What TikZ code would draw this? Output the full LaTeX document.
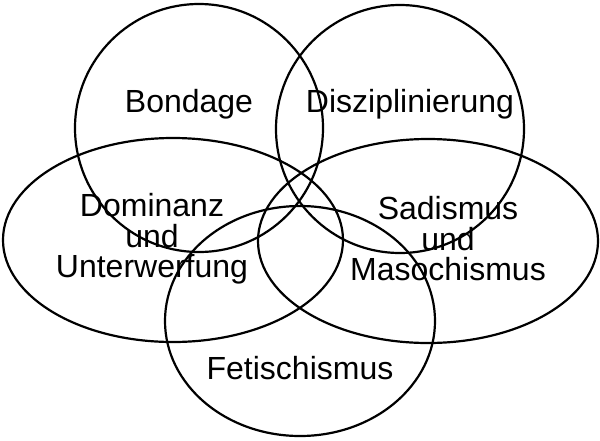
\documentclass[tikz,border=0pt]{standalone}
\usepackage{fontspec}
\setmainfont{Liberation Sans}
\begin{document}
\begin{tikzpicture}[x=1pt,y=-1pt,
  setline/.style={draw=black,line width=2.2pt},
  lbl/.style={font=\fontsize{32}{30.5}\selectfont,align=center,inner sep=0pt}]
\useasboundingbox (0,0) rectangle (600,440);
\draw[setline] (199,128) circle (124);
\draw[setline] (400,129) circle (124);
\draw[setline] (173,240) ellipse [x radius=170, y radius=102];
\draw[setline] (428,241) ellipse [x radius=170, y radius=102];
\draw[setline] (300,321) ellipse [x radius=135, y radius=115];
\node[lbl] (bond) at (189,104) {Bondage};
\node[lbl] (disz) at (410,104) {Disziplinierung};
\node[lbl] (dom) at (152,239) {Dominanz\\und\\Unterwerfung};
\node[lbl] (sad) at (448,239) {Sadismus\\und\\Masochismus};
\node[lbl] (fet) at (300,368) {Fetischismus};
\end{tikzpicture}
\end{document}
